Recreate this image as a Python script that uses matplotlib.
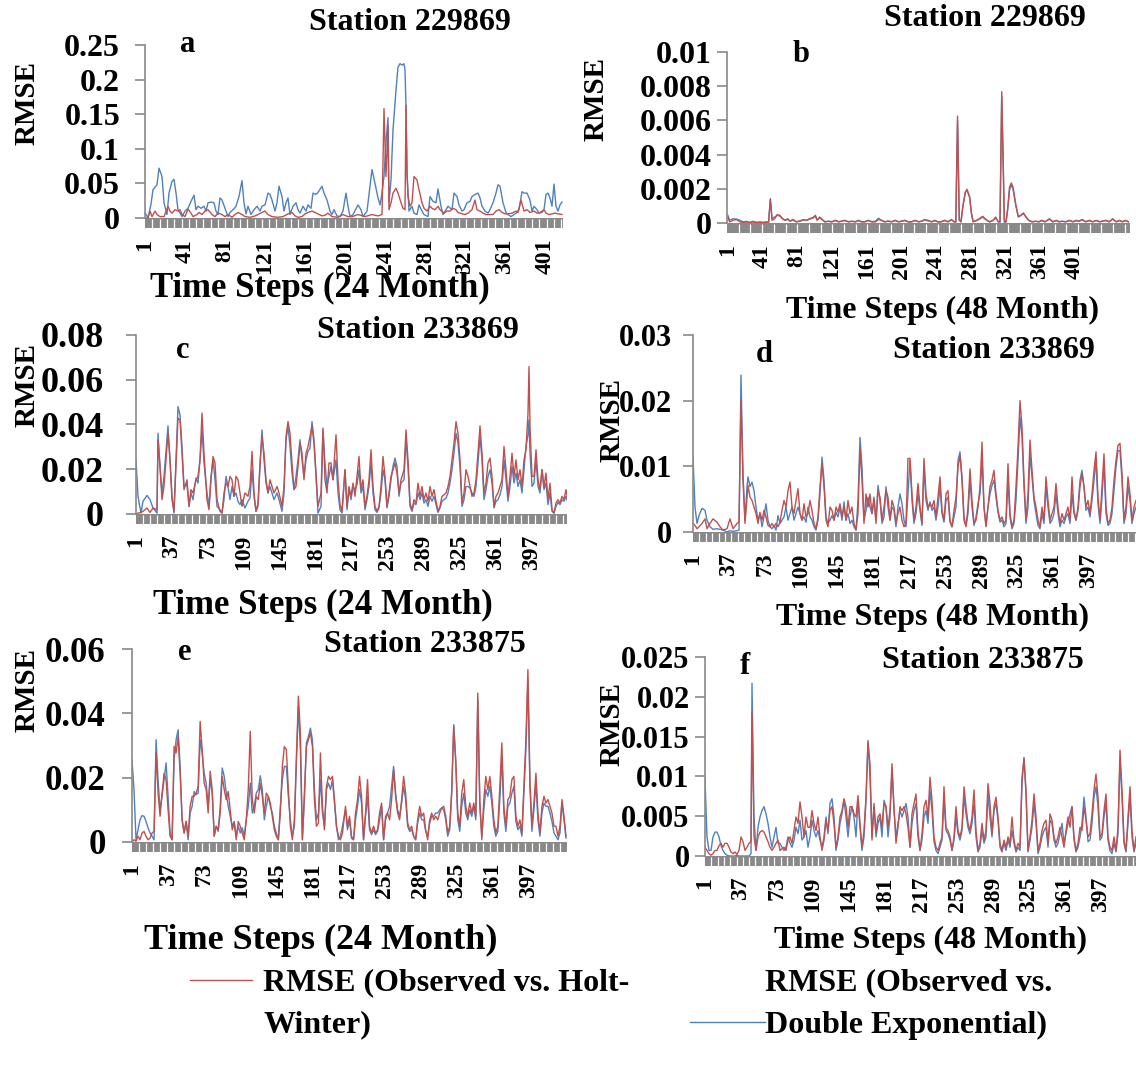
import numpy as np
import matplotlib
matplotlib.use('Agg')
import matplotlib.pyplot as plt
import matplotlib.transforms as mtransforms
from matplotlib.lines import Line2D
from matplotlib.patches import Rectangle

plt.rcParams['font.family'] = ['Liberation Serif', 'DejaVu Serif']
plt.rcParams['font.weight'] = 'bold'

# ---------------- data (time step, RMSE) ----------------
# panel a : Station 229869, 24 month
a_blue_steps = [1, 4, 7, 9, 13, 15, 18, 20, 23, 25, 28, 30, 32, 34, 38, 41, 44, 47, 50, 52,
                54, 57, 60, 62, 64, 67, 70, 72, 74, 76, 78, 81, 84, 86, 89, 92, 95, 98, 100, 102,
                104, 107, 110, 113, 116, 118, 121, 124, 126, 128, 131, 133, 135, 138, 140, 142, 144, 146, 149, 152,
                154, 156, 159, 162, 164, 167, 169, 172, 174, 178, 180, 183, 186, 188, 190, 193, 196, 199,
                202, 204, 206, 209, 214, 217, 219, 223, 226, 228, 231, 234, 236, 238, 240, 242, 244, 245, 247, 249,
                252, 254, 256, 258, 260, 261, 262, 263, 265, 268, 270, 273, 275, 278, 280, 284, 286, 289, 292, 294,
                297, 299, 302, 304, 308, 310, 313, 315, 318, 320, 323, 326, 328, 331, 334, 336, 338, 341, 344, 346,
                349, 352, 354, 356, 359, 362, 364, 367, 370, 372, 375, 378, 380, 383, 386, 388, 390, 393, 395, 398,
                400, 402, 404, 406, 408, 410, 412, 414, 416, 418]
a_blue = [0.008, 0.0, 0.02, 0.041, 0.048, 0.072, 0.06, 0.022, 0.005, 0.036, 0.053, 0.056, 0.036, 0.012, 0.002, 0.01, 0.014, 0.024, 0.033, 0.012,
          0.017, 0.014, 0.017, 0.01, 0.022, 0.023, 0.022, 0.01, 0.005, 0.029, 0.026, 0.014, 0.002, 0.008, 0.012, 0.017, 0.031, 0.054, 0.022, 0.006,
          0.017, 0.005, 0.012, 0.017, 0.01, 0.017, 0.019, 0.036, 0.034, 0.026, 0.01, 0.022, 0.046, 0.031, 0.01, 0.022, 0.029, 0.005, 0.017, 0.022,
          0.012, 0.007, 0.017, 0.01, 0.019, 0.014, 0.036, 0.034, 0.037, 0.046, 0.036, 0.026, 0.01, 0.005, 0.012, 0.003, 0.002, 0.01,
          0.036, 0.017, 0.002, 0.005, 0.019, 0.012, 0.002, 0.01, 0.046, 0.07, 0.05, 0.029, 0.019, 0.036, 0.06, 0.11, 0.145, 0.022, 0.055, 0.127,
          0.185, 0.218, 0.223, 0.221, 0.223, 0.214, 0.161, 0.065, 0.01, 0.017, 0.007, 0.005, 0.019, 0.01, 0.005, 0.002, 0.031, 0.024, 0.022, 0.042,
          0.017, 0.005, 0.012, 0.017, 0.012, 0.036, 0.031, 0.019, 0.01, 0.012, 0.022, 0.024, 0.031, 0.034, 0.036, 0.029, 0.017, 0.01, 0.007, 0.012,
          0.022, 0.036, 0.048, 0.046, 0.022, 0.008, 0.005, 0.002, 0.005, 0.007, 0.012, 0.038, 0.036, 0.036, 0.026, 0.01, 0.017, 0.012, 0.007, 0.008,
          0.012, 0.034, 0.036, 0.029, 0.017, 0.049, 0.017, 0.01, 0.019, 0.023]
a_red_steps = [1, 4, 6, 8, 11, 13, 16, 20, 24, 26, 28, 31, 34, 36, 38, 41, 44, 47, 49, 53,
               55, 58, 61, 64, 68, 71, 74, 78, 81, 84, 88, 91, 94, 98, 101, 106, 111, 114, 118, 121,
               124, 128, 134, 139, 144, 148, 151, 154, 158, 161, 164, 168, 171, 174, 178, 181, 184, 188, 194, 199,
               204, 208, 214, 221, 228, 234, 238, 240, 242, 244, 245, 247, 249, 252, 254, 257, 259, 261, 262, 263,
               264, 266, 268, 270, 273, 275, 278, 280, 283, 286, 288, 291, 294, 296, 300, 303, 306, 309, 312, 314,
               318, 321, 324, 328, 331, 333, 336, 339, 342, 346, 349, 352, 355, 358, 361, 364, 368, 372, 374, 377,
               380, 383, 386, 390, 393, 396, 400, 402, 405, 408, 411, 414, 418]
a_red = [0.0, 0.0, 0.01, 0.002, 0.01, 0.005, 0.002, 0.002, 0.017, 0.01, 0.007, 0.012, 0.01, 0.012, 0.005, 0.002, 0.013, 0.007, 0.002, 0.005,
         0.008, 0.005, 0.01, 0.012, 0.005, 0.002, 0.007, 0.005, 0.002, 0.005, 0.001, 0.005, 0.008, 0.005, 0.002, 0.001, 0.003, 0.005, 0.008, 0.01,
         0.005, 0.002, 0.001, 0.002, 0.006, 0.008, 0.003, 0.001, 0.002, 0.006, 0.008, 0.01, 0.008, 0.006, 0.003, 0.004, 0.007, 0.002, 0.001, 0.005,
         0.002, 0.002, 0.005, 0.002, 0.005, 0.003, 0.005, 0.158, 0.06, 0.134, 0.012, 0.022, 0.036, 0.043, 0.036, 0.022, 0.014, 0.012, 0.163, 0.065,
         0.031, 0.017, 0.022, 0.06, 0.055, 0.041, 0.022, 0.014, 0.01, 0.017, 0.014, 0.012, 0.017, 0.012, 0.007, 0.01, 0.01, 0.014, 0.012, 0.008,
         0.006, 0.005, 0.007, 0.012, 0.026, 0.012, 0.01, 0.007, 0.005, 0.005, 0.005, 0.01, 0.012, 0.008, 0.006, 0.006, 0.007, 0.01, 0.008, 0.026,
         0.01, 0.012, 0.008, 0.01, 0.007, 0.008, 0.012, 0.007, 0.005, 0.006, 0.007, 0.006, 0.005]

# panel b : Station 229869, 48 month
b_steps = [1, 3, 7, 11, 15, 19, 22, 26, 30, 34, 38, 42, 46, 48, 50, 52, 55, 58, 61, 64,
           67, 70, 73, 76, 80, 84, 88, 92, 95, 99, 102, 104, 107, 110, 113, 117, 121, 125, 129, 132,
           136, 140, 144, 148, 152, 155, 159, 163, 167, 171, 175, 178, 182, 186, 190, 194, 198, 202, 205, 209,
           213, 217, 221, 225, 228,
           232, 236, 240, 243, 247, 251, 255, 259, 262, 264, 266, 268, 270, 272, 275, 277, 280, 282, 284, 288,
           291, 295, 299, 303, 307, 310, 313, 315, 317, 319, 320, 322, 324, 326, 328, 330, 333, 336, 339, 342,
           345, 348, 352, 356, 360, 363, 367, 372, 376, 380, 383, 387, 391, 395, 399, 403, 406, 410, 414, 418,
           422, 426, 430, 433, 437, 441, 445, 449, 453, 456, 460, 463]
b_red = [0.00035, 0.00006, 0.00016, 0.0002, 0.00006, 0.00002, 0.00006, 0.00002, 0.00006, 0.00002,
         0.00004, 0.00002, 0.00006, 0.00004, 0.00137, 0.00016, 0.00025, 0.00049, 0.00045, 0.00025,
         0.00016, 0.00025, 0.0001, 0.00021, 0.00006, 0.00012, 0.0002, 0.00016, 0.00025, 0.00031,
         0.00045, 0.00016, 0.00035, 0.0002, 0.00006, 0.0001, 0.00006, 0.00016, 0.00006, 0.0001,
         0.00016, 0.00006, 0.0001, 0.00006, 0.00016, 0.00006, 0.00006, 0.00016, 0.00006, 0.00006,
         0.00021, 0.00016, 0.00006, 0.00012, 0.00006, 0.00016, 0.00006, 0.00012, 0.00016, 0.00006,
         0.00006, 0.00016, 0.00006, 0.00012, 0.0002,
         0.00016, 0.00006, 0.00016, 0.00006, 0.00006, 0.00016, 0.00006, 0.00021, 0.00006, 0.00006,
         0.00625, 0.00016, 0.00006, 0.00094, 0.00182, 0.00197, 0.00152, 0.00055, 0.00006, 0.00016,
         0.00025, 0.00039, 0.0002, 0.00006, 0.00016, 0.00035, 0.00006, 0.00006, 0.00768, 0.00289,
         0.00016, 0.00006, 0.00094, 0.00211, 0.00234, 0.00211, 0.00113, 0.00035, 0.00045, 0.00059,
         0.00035, 0.00016, 0.00006, 0.0001, 0.00006, 0.00016, 0.00006, 0.00025, 0.00006, 0.00016,
         0.00006, 0.0001, 0.00006, 0.00016, 0.00006, 0.00016, 0.0001, 0.00021, 0.00006, 0.00016,
         0.00006, 0.00016, 0.00006, 0.0001, 0.00016, 0.00006, 0.00025, 0.00006, 0.00016, 0.00006,
         0.00016, 0.00006]
b_blue = [0.00045, 0.00016, 0.00025, 0.00023, 0.00016, 0.00006, 0.0001, 0.00004, 0.0001, 0.00004,
          0.00006, 0.00004, 0.00006, 0.00006, 0.00143, 0.00025, 0.00035, 0.00045, 0.0004, 0.00025,
          0.00016, 0.0002, 0.00012, 0.00018, 0.00008, 0.0001, 0.00018, 0.00014, 0.00022, 0.00028,
          0.0004, 0.00018, 0.0003, 0.00018, 0.00008, 0.0001, 0.00008, 0.00014, 0.00008, 0.0001,
          0.00014, 0.00008, 0.0001, 0.00008, 0.00014, 0.00008, 0.00008, 0.00014, 0.00008, 0.0001,
          0.00028, 0.00016, 0.00008, 0.0001, 0.00008, 0.00014, 0.00008, 0.0001, 0.00014, 0.00008,
          0.00008, 0.00014, 0.00008, 0.0001, 0.00018,
          0.00012, 0.00008, 0.00014, 0.00008, 0.00008, 0.00014, 0.00008, 0.00018, 0.00008, 0.00008,
          0.006, 0.0002, 0.00008, 0.0009, 0.00178, 0.0019, 0.0015, 0.0006, 0.0001, 0.00014,
          0.00022, 0.00035, 0.00018, 0.00008, 0.00014, 0.0003, 0.00008, 0.00004, 0.0074, 0.0025,
          0.00002, 0.00008, 0.0008, 0.00195, 0.0022, 0.002, 0.0011, 0.0004, 0.00042, 0.00055,
          0.00035, 0.00016, 0.00008, 0.0001, 0.00008, 0.00014, 0.00008, 0.00022, 0.00008, 0.00014,
          0.00008, 0.0001, 0.00008, 0.00014, 0.00008, 0.00014, 0.0001, 0.00018, 0.00008, 0.00014,
          0.00008, 0.00014, 0.00008, 0.0001, 0.00014, 0.00008, 0.00022, 0.00008, 0.00014, 0.00008,
          0.00014, 0.00008]

# panel c : Station 233869, 24 month
c_steps = ([1, 3, 6, 8, 12, 15, 18, 22, 23, 25, 27, 29, 33, 35, 37, 39, 43, 45, 47, 49,
            52, 54, 56, 58, 61, 63, 65, 67, 69, 72, 74, 76, 78, 80, 82, 85, 87, 89, 91, 93,
            95, 97, 99, 101, 103, 105, 107, 110, 113, 115, 117, 119, 121, 123, 125, 127, 129, 131, 133, 135,
            137, 139, 142, 144, 147, 149, 151, 153, 155, 157, 159, 161, 163, 165, 167, 169, 171, 173, 175, 177,
            179, 181, 183, 186, 188, 190, 192, 194, 196, 198, 201, 203, 205, 207]
           + list(range(210, 267, 2)) + [269, 271] + list(range(273, 342, 2)) + [343]
           + list(range(345, 394, 2)) + [394, 395] + list(range(397, 434, 2)))
c_red = [0.0, 0.0004, 0.0007, 0.0012, 0.0027, 0.0007, 0.0027, 0.0019, 0.033, 0.0213,
         0.0064, 0.0123, 0.0361, 0.0242, 0.0064, 0.0012, 0.0428, 0.0421, 0.0272, 0.0109,
         0.0153, 0.0034, 0.0109, 0.0094, 0.0153, 0.0168, 0.0242, 0.0451, 0.0272, 0.0064,
         0.0019, 0.0153, 0.0257, 0.0228, 0.0064, 0.0012, 0.0004, 0.0094, 0.0138, 0.0123,
         0.0168, 0.0153, 0.0079, 0.0168, 0.0153, 0.0094, 0.0034, 0.0094, 0.0079, 0.0123,
         0.028, 0.0094, 0.0012, 0.0034, 0.0228, 0.0346, 0.0272, 0.0153, 0.0094, 0.0153,
         0.0123, 0.0094, 0.0123, 0.0094, 0.0034, 0.0123, 0.0346, 0.0413, 0.0361, 0.0228,
         0.0109, 0.0123, 0.0213, 0.0317, 0.0272, 0.0153, 0.0272, 0.0302, 0.0346, 0.0391,
         0.0317, 0.0183, 0.0034, 0.0094, 0.0384, 0.0153, 0.0094, 0.0228, 0.0228, 0.0153,
         0.0354, 0.0153, 0.0042, 0.0012,
         0.0198, 0.0034, 0.0123, 0.0079, 0.0138, 0.0079, 0.0168, 0.0257, 0.0109, 0.0153,
         0.0034, 0.0079, 0.0153, 0.0287, 0.0123, 0.0034, 0.0012, 0.0034, 0.0123, 0.0257,
         0.0168, 0.0034, 0.0094, 0.0168, 0.0198, 0.0228, 0.0183, 0.0094, 0.0153,
         0.0198, 0.0376,
         0.0242, 0.0049, 0.0019, 0.0064, 0.0049, 0.0138, 0.0079, 0.0123, 0.0064, 0.0094,
         0.0057, 0.0123, 0.0079, 0.0109, 0.0057, 0.0012, 0.0034, 0.0079, 0.0086, 0.0094,
         0.0123, 0.0168, 0.0242, 0.0317, 0.0413, 0.0361, 0.0242, 0.0049, 0.0094, 0.0198,
         0.0168, 0.0123, 0.0079, 0.0094, 0.0153,
         0.0272,
         0.0394, 0.0272, 0.0094, 0.0138, 0.0228, 0.025, 0.0168, 0.0034, 0.0079, 0.0094,
         0.0123, 0.0153, 0.0302, 0.0198, 0.0079, 0.0168, 0.0272, 0.0168, 0.0242, 0.0153,
         0.0198, 0.0123, 0.0242, 0.0287, 0.0451,
         0.0659, 0.0391,
         0.0168, 0.0168, 0.0287, 0.0153, 0.0109, 0.0198, 0.0123, 0.0183, 0.0064, 0.0138,
         0.0019, 0.0004, 0.0049, 0.0064, 0.0049, 0.0079, 0.0064, 0.0109, 0.0057]
c_blue = [0.0242, 0.0079, 0.0004, 0.0057, 0.0083, 0.0064, 0.0027, 0.0004, 0.0361, 0.0213,
          0.0094, 0.0168, 0.0394, 0.0242, 0.0079, 0.0004, 0.048, 0.0443, 0.0302, 0.0123,
          0.0131, 0.0034, 0.0094, 0.0064, 0.0161, 0.0138, 0.0242, 0.0376, 0.0228, 0.0094,
          0.0034, 0.0168, 0.0242, 0.0153, 0.0034, 0.0019, 0.0004, 0.0064, 0.0168, 0.0123,
          0.0064, 0.0123, 0.0079, 0.0094, 0.0057, 0.0042, 0.0064, 0.0027, 0.0057, 0.0072,
          0.0198, 0.0079, 0.0012, 0.0049, 0.0213, 0.0376, 0.0242, 0.0138, 0.0094, 0.0123,
          0.0094, 0.0064, 0.0094, 0.0064, 0.0012, 0.0094, 0.0332, 0.0391, 0.0302, 0.0183,
          0.0109, 0.0168, 0.0242, 0.0332, 0.0242, 0.0168, 0.0242, 0.028, 0.0294, 0.0413,
          0.0332, 0.0168, 0.0004, 0.0034, 0.0376, 0.0228, 0.0123, 0.0168, 0.0213, 0.0153,
          0.0242, 0.0094, 0.0019, 0.0004,
          0.0198, 0.0019, 0.0109, 0.0064, 0.0123, 0.0109, 0.0131, 0.0198, 0.0094, 0.0123,
          0.0019, 0.0064, 0.0123, 0.0228, 0.0094, 0.0019, 0.0007, 0.0027, 0.0094, 0.0198,
          0.0153, 0.0027, 0.0079, 0.0153, 0.0213, 0.025, 0.0213, 0.0079, 0.0138,
          0.0153, 0.0332,
          0.0213, 0.0034, 0.0012, 0.0049, 0.0042, 0.0094, 0.0064, 0.0094, 0.0049, 0.0064,
          0.0034, 0.0079, 0.0057, 0.0079, 0.0042, 0.0007, 0.0027, 0.0057, 0.0064, 0.0071,
          0.0094, 0.0138, 0.0198, 0.0272, 0.0361, 0.0317, 0.0213, 0.0034, 0.0064, 0.0123,
          0.0123, 0.0116, 0.0094, 0.0079, 0.0123,
          0.0228,
          0.0346, 0.0242, 0.0064, 0.0109, 0.0168, 0.0198, 0.0138, 0.0027, 0.0057, 0.0064,
          0.0086, 0.0123, 0.0242, 0.0153, 0.0057, 0.0123, 0.0213, 0.0138, 0.0183, 0.0123,
          0.0153, 0.0094, 0.0198, 0.0302, 0.0354,
          0.0421, 0.0272,
          0.0123, 0.0138, 0.0242, 0.0123, 0.0094, 0.0198, 0.0109, 0.0138, 0.0042, 0.0094,
          0.0012, 0.0004, 0.0034, 0.0052, 0.0042, 0.0064, 0.0057, 0.0079, 0.0049]

# panel d : Station 233869, 48 month
d_steps = ([1, 3, 5, 7, 10, 13, 15, 18, 21, 25, 28, 31, 35, 38, 41, 45, 47, 49, 51, 53, 55, 56]
           + list(range(58, 217, 2)) + list(range(218, 445, 2)))
d_red = [0.0013, 0.001, 0.0005, 0.0008, 0.0013, 0.002, 0.0005, 0.0013, 0.002, 0.0015,
         0.0008, 0.0003, 0.0005, 0.002, 0.0005, 0.0013, 0.0015, 0.02, 0.0079, 0.0013, 0.0053, 0.0071,
         0.0053, 0.0048, 0.0038, 0.0028, 0.0013, 0.003, 0.0018, 0.0033, 0.0023, 0.001,
         0.0008, 0.0013, 0.0008, 0.0013, 0.0008, 0.0015, 0.0033, 0.0048, 0.0038, 0.0063,
         0.0076, 0.0038, 0.0028, 0.0048, 0.0066, 0.0028, 0.0018, 0.0043, 0.0023, 0.0028,
         0.0048, 0.0033, 0.0013, 0.0005, 0.0023, 0.0069, 0.0104, 0.0069, 0.0018, 0.0008,
         0.0038, 0.0033, 0.0018, 0.0038, 0.003, 0.0043, 0.0023, 0.0038, 0.0018, 0.0048,
         0.0028, 0.0038, 0.0013, 0.0003, 0.0028, 0.0127, 0.0079, 0.0013, 0.0058, 0.0038,
         0.0058, 0.0028, 0.0053, 0.0013, 0.0063, 0.0053, 0.0018, 0.0038, 0.0063, 0.0053,
         0.0018, 0.0048, 0.0038, 0.0013, 0.0028, 0.0038, 0.0018, 0.0008, 0.0013, 0.0112,
         0.0112, 0.0058, 0.0018, 0.0038, 0.0074, 0.0038, 0.0013, 0.0112, 0.0058, 0.0038,
         0.0043, 0.0038, 0.0048, 0.0023, 0.0053, 0.0084, 0.0033, 0.0018, 0.0058, 0.0063,
         0.0018, 0.0008, 0.0033, 0.0053, 0.0099, 0.0117, 0.0079, 0.0018, 0.0008, 0.0038,
         0.0096, 0.0048, 0.0013, 0.0018, 0.0038, 0.0069, 0.0137, 0.0038, 0.0008, 0.0038,
         0.0069, 0.0079, 0.0094, 0.0058, 0.0033, 0.0018, 0.0023, 0.0013, 0.0018, 0.0104,
         0.0028, 0.0008, 0.0018, 0.0069, 0.0129, 0.02, 0.016, 0.0079, 0.0018, 0.0058,
         0.014, 0.0094, 0.0053, 0.0038, 0.0018, 0.0008, 0.0038, 0.0018, 0.0084, 0.0048,
         0.0018, 0.0028, 0.0038, 0.0074, 0.0038, 0.0013, 0.0028, 0.0018, 0.0028, 0.0038,
         0.0018, 0.0084, 0.0033, 0.0018, 0.0033, 0.0069, 0.0089, 0.0069, 0.0038, 0.0048,
         0.0028, 0.0058, 0.0094, 0.0122, 0.0053, 0.0018, 0.0069, 0.0119, 0.0038, 0.0013,
         0.0018, 0.0038, 0.0079, 0.0109, 0.0132, 0.0135, 0.0089, 0.0018, 0.0038, 0.0084,
         0.0058, 0.0018, 0.0038, 0.0048]
d_blue = [0.0114, 0.0038, 0.0013, 0.0025, 0.0036, 0.0033, 0.0018, 0.0008, 0.0004, 0.0005,
          0.0004, 0.0003, 0.0, 0.0002, 0.0001, 0.0002, 0.0003, 0.0239, 0.0089, 0.0018, 0.0069, 0.0084,
          0.0069, 0.0076, 0.0063, 0.0038, 0.0018, 0.0028, 0.0008, 0.0023, 0.0043, 0.0018,
          0.0008, 0.0005, 0.001, 0.0003, 0.0025, 0.0013, 0.0018, 0.0023, 0.0038, 0.0018,
          0.0028, 0.0038, 0.0018, 0.0028, 0.0038, 0.0028, 0.0018, 0.0023, 0.0015, 0.0038,
          0.0023, 0.0018, 0.0008, 0.0003, 0.0018, 0.0058, 0.0114, 0.0079, 0.0023, 0.0013,
          0.0018, 0.0025, 0.0018, 0.003, 0.0023, 0.0038, 0.0018, 0.0046, 0.0018, 0.0028,
          0.0013, 0.0018, 0.0008, 0.0003, 0.0048, 0.0144, 0.0099, 0.0018, 0.0033, 0.0053,
          0.0038, 0.0028, 0.0048, 0.0018, 0.0071, 0.0048, 0.0013, 0.0023, 0.0069, 0.0038,
          0.0018, 0.0038, 0.0033, 0.0008, 0.0038, 0.0058, 0.0043, 0.0018, 0.0008, 0.0058,
          0.0109, 0.0048, 0.0013, 0.0028, 0.0058, 0.0033, 0.001, 0.0099, 0.0048, 0.0033,
          0.0046, 0.0033, 0.0038, 0.0018, 0.0038, 0.0069, 0.0028, 0.0015, 0.0048, 0.0053,
          0.0015, 0.0008, 0.0023, 0.0038, 0.0109, 0.0122, 0.0084, 0.0023, 0.001, 0.0028,
          0.0079, 0.0038, 0.001, 0.0023, 0.0043, 0.0058, 0.0109, 0.0038, 0.001, 0.0038,
          0.0058, 0.0071, 0.0079, 0.0053, 0.003, 0.0015, 0.0018, 0.0008, 0.0013, 0.0079,
          0.0023, 0.0005, 0.0013, 0.0048, 0.0109, 0.0175, 0.0145, 0.0069, 0.0013, 0.0038,
          0.0119, 0.0084, 0.0048, 0.0028, 0.001, 0.0005, 0.0028, 0.0013, 0.0069, 0.0038,
          0.0013, 0.0018, 0.0028, 0.0058, 0.0028, 0.0008, 0.0018, 0.0013, 0.0023, 0.0028,
          0.0013, 0.0058, 0.0028, 0.0018, 0.0038, 0.0079, 0.0094, 0.0069, 0.0033, 0.0038,
          0.0023, 0.0048, 0.0079, 0.0109, 0.0043, 0.0013, 0.0053, 0.0104, 0.0028, 0.001,
          0.0013, 0.0028, 0.0063, 0.0099, 0.0124, 0.0124, 0.0079, 0.0013, 0.0028, 0.0069,
          0.0048, 0.0013, 0.0028, 0.0038]

# panel e : Station 233875, 24 month
e_steps = list(range(1, 212, 2)) + list(range(214, 435, 2))
e_red = [0.0, 0.0007, 0.0002, 0.0018, 0.0007, 0.0028, 0.0033, 0.0018, 0.0007, 0.0012,
         0.0028, 0.0033, 0.0277, 0.0152, 0.008, 0.0152, 0.0214, 0.0194, 0.01, 0.0018,
         0.0007, 0.0297, 0.0277, 0.0328, 0.0214, 0.0069, 0.0028, 0.0064, 0.0018, 0.0111,
         0.0142, 0.0142, 0.0152, 0.0173, 0.0375, 0.0287, 0.0183, 0.0163, 0.009, 0.022,
         0.0163, 0.0018, 0.0049, 0.0038, 0.009, 0.0204, 0.0163, 0.0132, 0.0157, 0.01,
         0.0038, 0.0059, 0.0007, 0.0064, 0.0049, 0.0028, 0.0007, 0.0069, 0.0163, 0.0344,
         0.0132, 0.009, 0.0142, 0.0132, 0.0183, 0.0142, 0.009, 0.0152, 0.0142, 0.0121,
         0.008, 0.0038, 0.0018, 0.0007, 0.009, 0.0235, 0.0297, 0.0287, 0.0163, 0.0049,
         0.0007, 0.0069, 0.0256, 0.0453, 0.0339, 0.0007, 0.0152, 0.0297, 0.0318, 0.0339,
         0.0297, 0.0132, 0.0049, 0.0059, 0.0277, 0.0111, 0.0038, 0.0173, 0.0204, 0.0194,
         0.0204, 0.0132, 0.0049, 0.0018, 0.0007, 0.0028,
         0.0111, 0.0049, 0.008, 0.0018, 0.0007, 0.009, 0.0132, 0.0204, 0.0142, 0.0007,
         0.009, 0.0194, 0.0049, 0.0028, 0.0049, 0.0028, 0.0038, 0.009, 0.0121, 0.0007,
         0.008, 0.009, 0.0069, 0.0132, 0.0225, 0.0142, 0.009, 0.0069, 0.0132, 0.0204,
         0.0152, 0.0059, 0.0038, 0.0049, 0.0018, 0.0007, 0.0069, 0.0111, 0.008, 0.009,
         0.0038, 0.0007, 0.0069, 0.009, 0.0069, 0.008, 0.0069, 0.009, 0.0106, 0.0111,
         0.008, 0.0028, 0.0049, 0.0163, 0.036, 0.0256, 0.009, 0.0049, 0.0152, 0.0194,
         0.0111, 0.008, 0.0121, 0.009, 0.0121, 0.008, 0.0463, 0.0132, 0.0007, 0.0132,
         0.0204, 0.0163, 0.0204, 0.0142, 0.0069, 0.0028, 0.0049, 0.0173, 0.0308, 0.0111,
         0.0049, 0.0132, 0.0142, 0.0194, 0.0204, 0.008, 0.0049, 0.0069, 0.0028, 0.0173,
         0.0318, 0.0536, 0.0194, 0.0049, 0.0121, 0.0214, 0.009, 0.0028, 0.0111, 0.0142,
         0.0121, 0.0132, 0.0111, 0.009, 0.0049, 0.0049, 0.0018, 0.0049, 0.0132, 0.008,
         0.0018]
e_blue = [0.0256, 0.0163, 0.0007, 0.0038, 0.0069, 0.0082, 0.008, 0.0064, 0.0044, 0.0028,
          0.0018, 0.0007, 0.0318, 0.0194, 0.01, 0.0142, 0.0194, 0.0246, 0.0142, 0.0028,
          0.0007, 0.0256, 0.0318, 0.0349, 0.0235, 0.0069, 0.0028, 0.0064, 0.0007, 0.009,
          0.0111, 0.0157, 0.0147, 0.0152, 0.0318, 0.0277, 0.0214, 0.0183, 0.0111, 0.0194,
          0.0152, 0.0018, 0.0049, 0.0033, 0.0111, 0.023, 0.0204, 0.0152, 0.0111, 0.008,
          0.0049, 0.0064, 0.0018, 0.0049, 0.0028, 0.0044, 0.0018, 0.0069, 0.0111, 0.0183,
          0.009, 0.0111, 0.0152, 0.0163, 0.0206, 0.0163, 0.0069, 0.0111, 0.0142, 0.0111,
          0.009, 0.0049, 0.0028, 0.0007, 0.0111, 0.0194, 0.0235, 0.0235, 0.0142, 0.0069,
          0.0018, 0.0049, 0.0246, 0.0422, 0.0287, 0.0007, 0.0132, 0.0308, 0.0328, 0.0354,
          0.0318, 0.0163, 0.0069, 0.009, 0.0194, 0.009, 0.0049, 0.0163, 0.0183, 0.0163,
          0.0194, 0.0121, 0.0049, 0.0007, 0.0018, 0.0049,
          0.01, 0.0038, 0.0069, 0.0012, 0.0007, 0.0069, 0.0111, 0.0163, 0.0121, 0.0007,
          0.008, 0.0142, 0.0038, 0.0023, 0.0038, 0.0023, 0.0033, 0.0069, 0.0111, 0.0007,
          0.0069, 0.009, 0.0111, 0.0173, 0.0235, 0.0152, 0.01, 0.008, 0.0121, 0.0173,
          0.0132, 0.0049, 0.0033, 0.0038, 0.0018, 0.0007, 0.0059, 0.009, 0.0069, 0.0069,
          0.0033, 0.0018, 0.0059, 0.008, 0.008, 0.009, 0.009, 0.01, 0.0106, 0.01,
          0.0069, 0.0018, 0.0038, 0.0152, 0.0365, 0.0246, 0.0069, 0.0033, 0.0111, 0.0152,
          0.009, 0.0069, 0.01, 0.008, 0.0111, 0.0069, 0.0442, 0.0111, 0.0018, 0.01,
          0.0163, 0.0142, 0.0173, 0.0121, 0.0049, 0.0018, 0.0033, 0.0132, 0.0266, 0.009,
          0.0033, 0.0111, 0.0121, 0.0152, 0.0173, 0.0064, 0.0038, 0.0049, 0.0018, 0.0152,
          0.0287, 0.0505, 0.0173, 0.0033, 0.01, 0.0183, 0.0069, 0.0018, 0.009, 0.0121,
          0.0111, 0.0111, 0.009, 0.0064, 0.0028, 0.0018, 0.0007, 0.0028, 0.0121, 0.0069,
          0.0012]

# panel f : Station 233875, 48 month
f_steps = list(range(1, 48, 2)) + list(range(48, 211, 2)) + list(range(212, 433, 2))
f_red = [0.0011, 0.0007, 0.0003, 0.0001, 0.0003, 0.0007, 0.0007, 0.0013, 0.0016, 0.0011,
         0.0016, 0.0016, 0.0011, 0.0005, 0.0003, 0.0005, 0.0002, 0.0007, 0.0024, 0.0018,
         0.0007, 0.0011, 0.0016, 0.0018,
         0.0181, 0.0024, 0.0007, 0.0024, 0.003, 0.0032, 0.003, 0.0024, 0.0018, 0.0011,
         0.0007, 0.0011, 0.0016, 0.002, 0.0007, 0.0009, 0.0011, 0.0007, 0.002, 0.0024,
         0.0016, 0.0032, 0.0049, 0.0041, 0.0068, 0.0049, 0.0024, 0.0049, 0.0036, 0.0036,
         0.0057, 0.0041, 0.0032, 0.0049, 0.0024, 0.0007, 0.002, 0.0045, 0.0032, 0.0057,
         0.0062, 0.0041, 0.0011, 0.0024, 0.0049, 0.0057, 0.0072, 0.0062, 0.0036, 0.0062,
         0.0062, 0.0053, 0.0049, 0.0076, 0.0041, 0.0011, 0.0032, 0.0074, 0.0143, 0.0116,
         0.002, 0.0066, 0.003, 0.0049, 0.0053, 0.0036, 0.0066, 0.0062, 0.0036, 0.0057,
         0.0116, 0.0062, 0.0016, 0.0036, 0.0062, 0.0057, 0.0062, 0.0053, 0.0036, 0.0011,
         0.0053, 0.0066,
         0.0078, 0.0032, 0.0007, 0.0028, 0.0062, 0.007, 0.0049, 0.0099, 0.007, 0.0024,
         0.0011, 0.0007, 0.0016, 0.0024, 0.0087, 0.0036, 0.0032, 0.0024, 0.0007, 0.0024,
         0.0062, 0.0032, 0.0024, 0.0036, 0.0087, 0.0062, 0.0041, 0.0032, 0.0049, 0.0083,
         0.0032, 0.0007, 0.0016, 0.0041, 0.002, 0.0032, 0.0091, 0.0066, 0.0028, 0.0062,
         0.0074, 0.0049, 0.0016, 0.0007, 0.002, 0.0011, 0.0024, 0.0016, 0.0049, 0.002,
         0.0007, 0.0016, 0.0011, 0.0099, 0.0122, 0.0083, 0.0007, 0.0024, 0.0045, 0.0078,
         0.0049, 0.0007, 0.0016, 0.0032, 0.0041, 0.0045, 0.0016, 0.0053, 0.0045, 0.0024,
         0.0016, 0.0024, 0.0036, 0.0024, 0.0011, 0.0032, 0.0049, 0.0036, 0.0062, 0.0024,
         0.0007, 0.0016, 0.0036, 0.0032, 0.0062, 0.0045, 0.0024, 0.0028, 0.0053, 0.0083,
         0.0103, 0.0074, 0.0024, 0.0028, 0.0057, 0.0078, 0.0024, 0.0011, 0.0007, 0.0024,
         0.0007, 0.0036, 0.0133, 0.0083, 0.002, 0.0007, 0.0049, 0.0087, 0.0032, 0.0007,
         0.0024]
f_blue = [0.0097, 0.0024, 0.0007, 0.0007, 0.0024, 0.003, 0.003, 0.0024, 0.0013, 0.0007,
          0.0003, 0.0001, 0.0, 0.0, 0.0, 0.0, 0.0001, 0.0, 0.0, 0.0,
          0.0, 0.0, 0.0, 0.0003,
          0.0217, 0.0049, 0.0007, 0.0036, 0.0049, 0.0057, 0.0062, 0.0053, 0.0041, 0.0024,
          0.0011, 0.0024, 0.0036, 0.0016, 0.0016, 0.0011, 0.0007, 0.0011, 0.0024, 0.0016,
          0.0011, 0.002, 0.0036, 0.0028, 0.0045, 0.002, 0.0024, 0.0032, 0.0011, 0.0024,
          0.0045, 0.0032, 0.0024, 0.0032, 0.002, 0.0011, 0.0024, 0.0049, 0.0028, 0.0066,
          0.0072, 0.0049, 0.0007, 0.002, 0.0041, 0.0053, 0.007, 0.0049, 0.0024, 0.0049,
          0.0062, 0.0049, 0.0024, 0.007, 0.0036, 0.0007, 0.0024, 0.007, 0.0145, 0.0099,
          0.0024, 0.0062, 0.0024, 0.0041, 0.0049, 0.0024, 0.007, 0.0062, 0.0024, 0.0049,
          0.0108, 0.0057, 0.0024, 0.0041, 0.0057, 0.0049, 0.0057, 0.0066, 0.0049, 0.0011,
          0.0041, 0.0057,
          0.0066, 0.0024, 0.0007, 0.002, 0.0049, 0.0057, 0.0041, 0.0083, 0.0057, 0.0018,
          0.0007, 0.0003, 0.0011, 0.002, 0.007, 0.0032, 0.0028, 0.002, 0.0007, 0.002,
          0.0049, 0.0028, 0.002, 0.0032, 0.0074, 0.0053, 0.0036, 0.0028, 0.0041, 0.0066,
          0.0024, 0.0005, 0.0011, 0.0032, 0.0016, 0.0024, 0.0078, 0.0049, 0.0024, 0.0057,
          0.0066, 0.0045, 0.0011, 0.0005, 0.0016, 0.0007, 0.002, 0.0011, 0.0032, 0.0016,
          0.0005, 0.0011, 0.0007, 0.0091, 0.0124, 0.0078, 0.0005, 0.002, 0.0036, 0.0066,
          0.0041, 0.0003, 0.0011, 0.0024, 0.0032, 0.0036, 0.0011, 0.0045, 0.0041, 0.002,
          0.0011, 0.0016, 0.0028, 0.0041, 0.0016, 0.0028, 0.0041, 0.0053, 0.0062, 0.002,
          0.0005, 0.0011, 0.0024, 0.0041, 0.0074, 0.0049, 0.0018, 0.002, 0.0041, 0.0074,
          0.0087, 0.0062, 0.002, 0.0024, 0.0049, 0.0066, 0.002, 0.0007, 0.0003, 0.0016,
          0.0005, 0.0028, 0.012, 0.0074, 0.0016, 0.0005, 0.0041, 0.0074, 0.0024, 0.0005,
          0.0016]

ticks_a = [1, 41, 81, 121, 161, 201, 241, 281, 321, 361, 401]
ticks_c = [1, 37, 73, 109, 145, 181, 217, 253, 289, 325, 361, 397]

# ---------------- figure ----------------
W, H = 1136, 1068
RED = '#C0504D'
BLUE = '#4F81BD'
GRAY = '#898989'

fig = plt.figure(figsize=(W / 100, H / 100), dpi=100)


def px(x, y):
    return x / W, 1 - y / H


def panel(rect, steps_r, red, steps_b, blue, xlim, yticks, ylabels, xticks, gap, ysize, ypad):
    x0, y0, x1, y1 = rect
    ax = fig.add_axes([x0 / W, 1 - y1 / H, (x1 - x0) / W, (y1 - y0) / H])
    ax.plot(steps_b, blue, color=BLUE, lw=1.0)
    ax.plot(steps_r, red, color=RED, lw=1.0)
    ax.set_xlim(*xlim)
    ax.set_ylim(0, yticks[-1])
    for s in ['top', 'right', 'bottom']:
        ax.spines[s].set_visible(False)
    ax.spines['left'].set_color(GRAY)
    ax.spines['left'].set_linewidth(1.2)
    ax.set_yticks(yticks)
    ax.set_yticklabels(ylabels, fontsize=ysize, fontweight='bold')
    ax.tick_params(axis='y', direction='out', length=7, width=1.2, color=GRAY, pad=ypad)
    ax.set_xticks(xticks)
    ax.set_xticklabels([str(t) for t in xticks], rotation=90, fontsize=17, fontweight='bold')
    ax.tick_params(axis='x', length=0, pad=15)
    # grey band of dense category tick marks under the axis
    band = 10 / (y1 - y0)
    ax.add_patch(Rectangle((0, -band), 1, band, transform=ax.transAxes,
                           color=GRAY, clip_on=False, lw=0))
    trans = mtransforms.blended_transform_factory(ax.transData, ax.transAxes)
    ax.vlines(np.arange(xlim[0] + gap, xlim[1], gap), -band, -0.004, transform=trans,
              color='white', lw=0.9, clip_on=False)
    return ax


panel((145, 45, 563, 218), a_red_steps, a_red, a_blue_steps, a_blue, (1, 419),
      [0, 0.05, 0.1, 0.15, 0.2, 0.25], ['0', '0.05', '0.1', '0.15', '0.2', '0.25'],
      ticks_a, 7.3, 23, 11)
panel((727, 52, 1130, 223), b_steps, b_red, b_steps, b_blue, (0, 465),
      [0, 0.002, 0.004, 0.006, 0.008, 0.01], ['0', '0.002', '0.004', '0.006', '0.008', '0.01'],
      ticks_a, 13.5, 23, 4)
panel((136, 335, 567, 514), c_steps, c_red, c_steps, c_blue, (1, 432),
      [0, 0.02, 0.04, 0.06, 0.08], ['0', '0.02', '0.04', '0.06', '0.08'], ticks_c, 7.0, 26, 16)
panel((693, 335, 1136, 532), d_steps, d_red, d_steps, d_blue, (1, 444),
      [0, 0.01, 0.02, 0.03], ['0', '0.01', '0.02', '0.03'], ticks_c, 6.4, 22, 8)
panel((132, 649, 567, 842), e_steps, e_red, e_steps, e_blue, (1, 435),
      [0, 0.02, 0.04, 0.06], ['0', '0.02', '0.04', '0.06'], ticks_c, 7.0, 25, 12)
panel((705, 657, 1136, 856), f_steps, f_red, f_steps, f_blue, (1, 432),
      [0, 0.005, 0.01, 0.015, 0.02, 0.025], ['0', '0.005', '0.01', '0.015', '0.02', '0.025'],
      ticks_c, 6.3, 22, 4)

# titles, panel letters, axis labels
titles = [('Station 229869', 410, 22), ('Station 229869', 985, 18), ('Station 233869', 418, 330),
          ('Station 233869', 994, 350), ('Station 233875', 425, 645), ('Station 233875', 983, 660)]
for t, x, y in titles:
    fig.text(*px(x, y), t, fontsize=23, fontweight='bold', ha='center', va='center')

letters = [('a', 188, 45), ('b', 801, 55), ('c', 183, 350), ('d', 764, 355), ('e', 185, 652), ('f', 745, 666)]
for t, x, y in letters:
    fig.text(*px(x, y), t, fontsize=22, fontweight='bold', ha='center', va='center')

xlabels = [('Time Steps (24 Month)', 320, 288, 25), ('Time Steps (48 Month)', 942, 310, 23),
           ('Time Steps (24 Month)', 323, 605, 25), ('Time Steps (48 Month)', 933, 617, 23),
           ('Time Steps (24 Month)', 321, 940, 26), ('Time Steps (48 Month)', 931, 940, 23)]
for t, x, y, s in xlabels:
    fig.text(*px(x, y), t, fontsize=s, fontweight='bold', ha='center', va='center')

for x, y in [(27, 103), (596, 99), (27, 385), (612, 420), (27, 690), (612, 724)]:
    fig.text(*px(x, y), 'RMSE', fontsize=21, fontweight='bold', ha='center', va='center', rotation=90)

# legend
fig.add_artist(Line2D([190 / W, 252 / W], [1 - 980 / H, 1 - 980 / H], color=RED, lw=1.0))
fig.add_artist(Line2D([690 / W, 765 / W], [1 - 1022 / H, 1 - 1022 / H], color=BLUE, lw=1.0))
fig.text(*px(263, 983), 'RMSE (Observed vs. Holt-', fontsize=23, fontweight='bold', va='center')
fig.text(*px(263, 1025), 'Winter)', fontsize=23, fontweight='bold', va='center')
fig.text(*px(765, 983), 'RMSE (Observed vs.', fontsize=23, fontweight='bold', va='center')
fig.text(*px(765, 1025), 'Double Exponential)', fontsize=23, fontweight='bold', va='center')

fig.savefig('out.png', dpi=100)
